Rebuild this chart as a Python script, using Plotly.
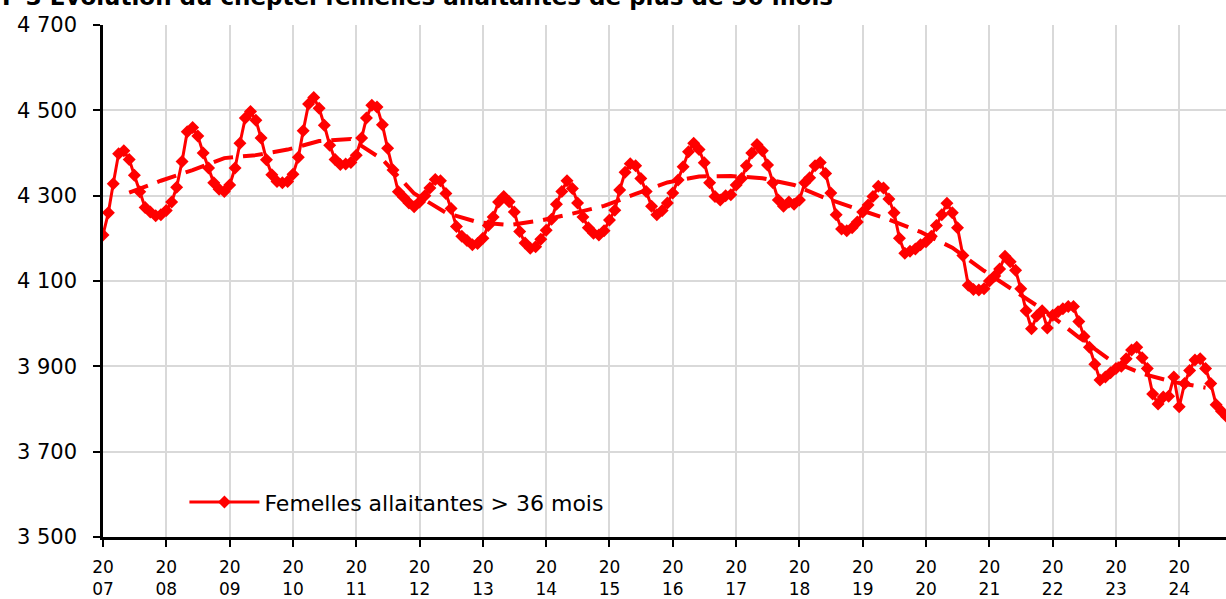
import pandas as pd
import plotly.graph_objects as go

# Monthly herd (thousand head), Jan 2007 onward
y2007 = [4208, 4260, 4328, 4398, 4405, 4385, 4348, 4309, 4272, 4262, 4253, 4255]
y2008 = [4265, 4285, 4320, 4380, 4450, 4460, 4440, 4400, 4365, 4330, 4315, 4310]
y2009 = [4325, 4365, 4423, 4482, 4497, 4477, 4435, 4384, 4349, 4333, 4330, 4333]
y2010 = [4350, 4390, 4452, 4515, 4530, 4505, 4465, 4418, 4385, 4373, 4374, 4378]
y2011 = [4395, 4435, 4482, 4512, 4508, 4466, 4411, 4360, 4309, 4296, 4283, 4274]
y2012 = [4285, 4300, 4318, 4338, 4335, 4305, 4270, 4228, 4205, 4195, 4185, 4188]
y2013 = [4200, 4230, 4250, 4285, 4298, 4286, 4262, 4216, 4189, 4177, 4180, 4198]
y2014 = [4219, 4245, 4280, 4310, 4335, 4317, 4283, 4250, 4225, 4212, 4208, 4218]
y2015 = [4243, 4266, 4313, 4355, 4375, 4370, 4340, 4310, 4275, 4255, 4265, 4283]
y2016 = [4306, 4337, 4368, 4403, 4423, 4408, 4377, 4330, 4298, 4290, 4300, 4302]
y2017 = [4325, 4340, 4370, 4400, 4420, 4405, 4372, 4330, 4290, 4275, 4285, 4280]
y2018 = [4290, 4330, 4342, 4370, 4378, 4352, 4306, 4255, 4222, 4218, 4225, 4238]
y2019 = [4262, 4278, 4298, 4322, 4318, 4292, 4260, 4200, 4165, 4170, 4175, 4185]
y2020 = [4192, 4205, 4230, 4255, 4282, 4260, 4225, 4160, 4090, 4080, 4079, 4082]
y2021 = [4100, 4112, 4128, 4158, 4145, 4125, 4082, 4030, 3988, 4018, 4030, 3990]
y2022 = [4020, 4028, 4035, 4040, 4040, 4005, 3970, 3945, 3905, 3868, 3875, 3885]
y2023 = [3895, 3900, 3918, 3938, 3945, 3920, 3895, 3835, 3812, 3828, 3830, 3875]
y2024 = [3805, 3860, 3890, 3915, 3918, 3895, 3860, 3810, 3795, 3782]

values = (y2007 + y2008 + y2009 + y2010 + y2011 + y2012 + y2013 + y2014 + y2015
          + y2016 + y2017 + y2018 + y2019 + y2020 + y2021 + y2022 + y2023 + y2024)
months = pd.date_range("2007-01-01", periods=len(values), freq="MS")

# Dashed trend (semi-annual points)
trend_dates = ["2007-06-01", "2007-12-01", "2008-06-01", "2008-12-01", "2009-06-01", "2009-12-01",
               "2010-06-01", "2010-12-01", "2011-06-01", "2011-12-01", "2012-06-01", "2012-12-01",
               "2013-06-01", "2013-12-01", "2014-06-01", "2014-12-01", "2015-06-01", "2015-12-01",
               "2016-06-01", "2016-12-01", "2017-06-01", "2017-12-01", "2018-06-01", "2018-12-01",
               "2019-06-01", "2019-12-01", "2020-06-01", "2020-12-01", "2021-06-01", "2021-12-01",
               "2022-06-01", "2022-12-01", "2023-06-01", "2023-12-01", "2024-06-01"]
trend_values = [4307, 4335, 4360, 4388, 4395, 4408,
                4428, 4433, 4385, 4305, 4260, 4238,
                4231, 4242, 4258, 4276, 4304, 4331,
                4345, 4346, 4341, 4325, 4294, 4270,
                4244, 4215, 4178, 4124, 4076, 4026,
                3968, 3914, 3883, 3863, 3850]

years = list(range(2007, 2025))
tick_vals = [f"{y}-01-01" for y in years]
tick_text = [f"20<br>{str(y)[2:]}" for y in years]
y_ticks = [3500, 3700, 3900, 4100, 4300, 4500, 4700]

title_text = "F 3 Évolution du cheptel femelles allaitantes de plus de 36 mois"
series_name = "Femelles allaitantes > 36 mois"

RED = "#FF0000"
FONT = "DejaVu Sans"

fig = go.Figure()
fig.add_trace(go.Scatter(
    x=trend_dates, y=trend_values, mode="lines",
    line=dict(color=RED, width=4, dash="20px,10px"),
    showlegend=False, hoverinfo="skip",
))
fig.add_trace(go.Scatter(
    x=months, y=values, mode="lines+markers", name=series_name,
    line=dict(color=RED, width=3),
    marker=dict(symbol="diamond", size=10, color=RED),
))

fig.update_layout(
    width=1226, height=599,
    margin=dict(l=103, r=0, t=25, b=62, autoexpand=False),
    paper_bgcolor="white", plot_bgcolor="white",
    separators=", ",
    font=dict(family=FONT, color="#000000", size=20),
    showlegend=True,
    legend=dict(x=0.0725, y=0.068, xanchor="left", yanchor="middle",
                bgcolor="rgba(0,0,0,0)", font=dict(size=22, family=FONT),
                itemwidth=70),
    annotations=[dict(text=f"<b>{title_text}</b>", xref="paper", yref="paper",
                      x=-0.0917, y=1.0254, xanchor="left", yanchor="bottom",
                      showarrow=False, font=dict(size=23, family=FONT))],
)
fig.update_xaxes(
    type="date", range=["2007-01-01", "2024-09-27"],
    tickmode="array", tickvals=tick_vals, ticktext=tick_text,
    tickfont=dict(size=17, family=FONT),
    ticks="outside", ticklen=7, tickwidth=2, tickcolor="black",
    ticklabelstandoff=6,
    showline=True, linecolor="black", linewidth=2.5,
    showgrid=True, gridcolor="#D9D9D9", gridwidth=2,
    zeroline=False,
)
fig.update_yaxes(
    range=[3500, 4700], tickmode="array", tickvals=y_ticks, tickformat=",d",
    tickfont=dict(size=21, family=FONT),
    ticks="outside", ticklen=7, tickwidth=2, tickcolor="black",
    ticklabelstandoff=12,
    showline=True, linecolor="black", linewidth=2.5,
    showgrid=True, gridcolor="#D9D9D9", gridwidth=2,
    zeroline=False,
)

fig.write_html("out.html", config={"displayModeBar": False},
               post_script="document.body.style.margin='0';")
